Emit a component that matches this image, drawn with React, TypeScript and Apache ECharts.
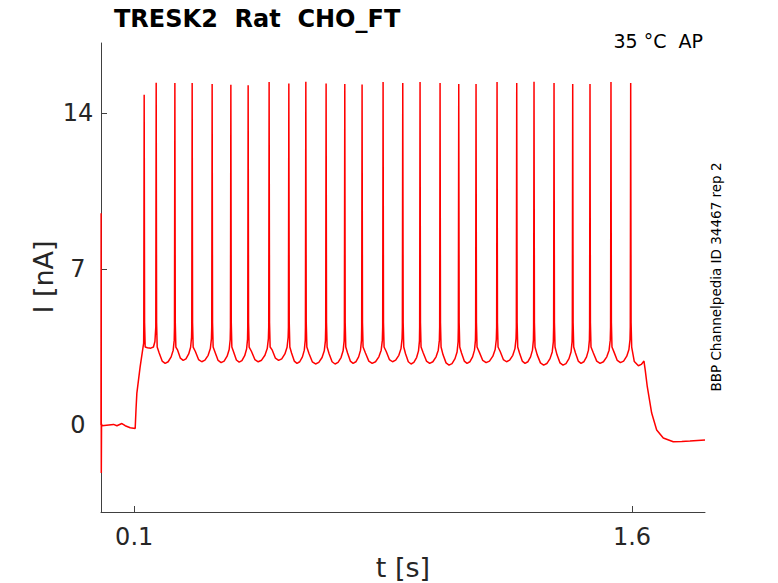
import React, { useEffect, useRef } from "react";
import * as echarts from "echarts";

// Spike times [s] and peak currents [nA]
const spikeTimes = [
  0.1301, 0.1663, 0.2226, 0.2747, 0.3349, 0.3913, 0.4434, 0.5066, 0.566, 0.6172,
  0.6783, 0.7346, 0.7867, 0.85, 0.9093, 0.9614, 1.0217, 1.078, 1.1301, 1.1934,
  1.2527, 1.3048, 1.3651, 1.4214, 1.4735, 1.5367, 1.5961,
];
const spikePeaks = [
  14.82, 15.36, 15.34, 15.34, 15.3, 15.27, 15.25, 15.39, 15.32, 15.4, 15.32, 15.3,
  15.28, 15.39, 15.34, 15.39, 15.34, 15.3, 15.3, 15.39, 15.34, 15.4, 15.34, 15.3,
  15.3, 15.39, 15.34,
];
// Trough value of each inter-spike interval from spike 2 to spike 27 [nA]
const isiTroughs = [
  2.77, 2.9, 2.84, 2.8, 2.82, 2.84, 2.9, 2.77, 2.74, 2.74, 2.77, 2.77, 2.84, 2.74,
  2.77, 2.69, 2.77, 2.8, 2.84, 2.77, 2.69, 2.69, 2.77, 2.77, 2.8,
];
// Read shape of an inter-spike interval: fraction of the interval, height above trough
const isiShapeFrac = [0.16, 0.32, 0.48, 0.64, 0.8, 0.91, 0.965];
const isiShapeRise = [0.46, 0.1, 0, 0.07, 0.29, 0.59, 1.04];
// Read spike edges: time offset from the peak [s], current [nA]
const spikeEdgeOffsets = [-0.0012, 0.0012, 0.003];
const spikeEdgeValues = [4.4, 4.6, 3.5];

// Trace before the first spike [t, I]
const onsetTrace: [number, number][] = [
  [0, 0], [0.0004, 9.5], [0.0009, -2.15], [0.0016, 0.05], [0.0027, -0.03],
  [0.0377, 0.03], [0.0479, -0.03], [0.063, 0.07], [0.0729, -0.03], [0.088, -0.12],
  [0.103, -0.15], [0.1055, 0.7], [0.108, 1.42], [0.118, 2.62], [0.1285, 3.68],
];
// First inter-spike plateau
const firstIsiTrace: [number, number][] = [
  [0.14, 3.47], [0.15, 3.45], [0.158, 3.5], [0.1625, 3.75],
];
// Trace after the last spike
const offsetTrace: [number, number][] = [
  [1.607, 2.85], [1.6193, 2.66], [1.628, 2.72], [1.6361, 2.87], [1.64, 2.45],
  [1.6461, 1.72], [1.6593, 0.54], [1.6744, -0.22], [1.6943, -0.58], [1.7244, -0.75],
  [1.75, -0.74], [1.7747, -0.72], [1.82, -0.67],
];

const xTicks = [0.1, 1.6];
const yTicks = [0, 7, 14];

function buildTrace(): [number, number][] {
  const pts: [number, number][] = [...onsetTrace];
  for (let k = 0; k < spikeTimes.length; k++) {
    const t = spikeTimes[k];
    pts.push([t + spikeEdgeOffsets[0], spikeEdgeValues[0]]);
    pts.push([t, spikePeaks[k]]);
    pts.push([t + spikeEdgeOffsets[1], spikeEdgeValues[1]]);
    pts.push([t + spikeEdgeOffsets[2], spikeEdgeValues[2]]);
    if (k === 0) {
      pts.push(...firstIsiTrace);
    } else if (k < spikeTimes.length - 1) {
      const T = spikeTimes[k + 1] - t;
      const tr = isiTroughs[k - 1];
      for (let j = 0; j < isiShapeFrac.length; j++) {
        pts.push([t + isiShapeFrac[j] * T, tr + isiShapeRise[j]]);
      }
    } else {
      pts.push(...offsetTrace);
    }
  }
  return pts;
}

const FONT = "DejaVu Sans";
const TEXT = "#262626";
const AXIS = "#404040";

export default function App() {
  const ref = useRef<HTMLDivElement>(null);
  useEffect(() => {
    if (!ref.current) return;
    const chart = echarts.init(ref.current, null, { renderer: "svg" });
    chart.setOption({
      animation: false,
      backgroundColor: "#ffffff",
      grid: { left: 101, top: 43, right: 73, bottom: 71, containLabel: false, outerBoundsMode: "none" },
      xAxis: {
        type: "value",
        min: 0,
        max: 1.82,
        axisLine: { show: true, onZero: false, lineStyle: { color: AXIS, width: 1 } },
        axisTick: { show: true, inside: true, length: 6, customValues: xTicks, lineStyle: { color: AXIS } },
        axisLabel: {
          customValues: xTicks,
          fontSize: 24,
          fontFamily: FONT,
          color: TEXT,
          margin: 13,
          formatter: (v: number) => v.toFixed(1),
        },
        splitLine: { show: false },
      },
      yAxis: {
        type: "value",
        min: -3.9,
        max: 17.14,
        axisLine: { show: true, onZero: false, lineStyle: { color: AXIS, width: 1 } },
        axisTick: { show: true, inside: true, length: 6, customValues: yTicks, lineStyle: { color: AXIS } },
        axisLabel: {
          customValues: yTicks,
          fontSize: 24,
          fontFamily: FONT,
          color: TEXT,
          margin: 23,
          align: "center",
        },
        splitLine: { show: false },
      },
      series: [
        {
          type: "line",
          data: buildTrace(),
          showSymbol: false,
          symbol: "none",
          lineStyle: { color: "#ff0000", width: 1.5 },
          clip: true,
        },
      ],
      graphic: [
        {
          type: "text",
          x: 114,
          y: 19,
          style: {
            text: "TRESK2  Rat  CHO_FT",
            fontSize: 24,
            fontWeight: "bold",
            fontFamily: FONT,
            fill: "#000000",
            align: "left",
            verticalAlign: "middle",
          },
        },
        {
          type: "text",
          x: 703,
          y: 41,
          style: {
            text: "35 °C  AP",
            fontSize: 19,
            fontFamily: FONT,
            fill: "#000000",
            align: "right",
            verticalAlign: "middle",
          },
        },
        {
          type: "text",
          x: 716,
          y: 277,
          rotation: Math.PI / 2,
          style: {
            text: "BBP Channelpedia ID 34467 rep 2",
            fontSize: 13.5,
            fontFamily: FONT,
            fill: "#000000",
            align: "center",
            verticalAlign: "middle",
          },
        },
        {
          type: "text",
          x: 43,
          y: 277,
          rotation: Math.PI / 2,
          style: {
            text: "I [nA]",
            fontSize: 27,
            fontFamily: FONT,
            fill: TEXT,
            align: "center",
            verticalAlign: "middle",
          },
        },
        {
          type: "text",
          x: 403,
          y: 567,
          style: {
            text: "t [s]",
            fontSize: 27,
            fontFamily: FONT,
            fill: TEXT,
            align: "center",
            verticalAlign: "middle",
          },
        },
      ],
    });
    return () => chart.dispose();
  }, []);
  return (
    <div
      ref={ref}
      style={{ position: "absolute", left: 0, top: 0, width: 778, height: 583 }}
    />
  );
}
